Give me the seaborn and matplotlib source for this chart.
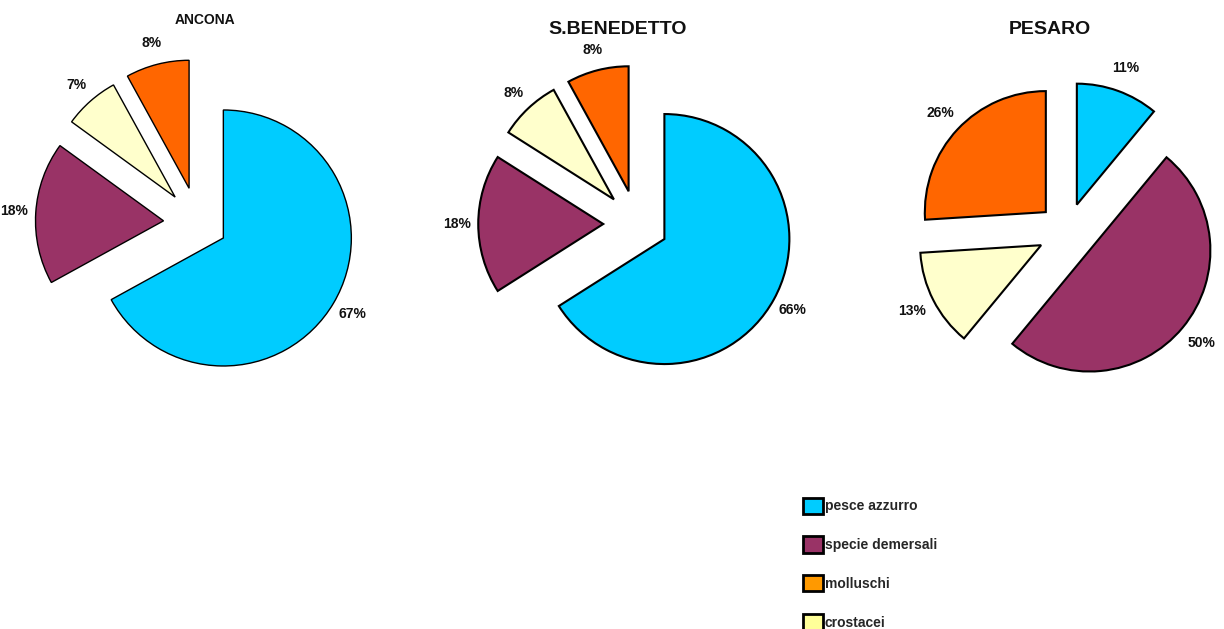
import matplotlib
matplotlib.use("Agg")
import matplotlib.pyplot as plt
from matplotlib.patches import Patch
import seaborn as sns

# data (percent shares per port)
categories = ["pesce azzurro", "specie demersali", "crostacei", "molluschi"]
ancona = [67, 18, 7, 8]
sbenedetto = [66, 18, 8, 8]
pesaro = [11, 50, 13, 26]
titles = ["ANCONA", "S.BENEDETTO", "PESARO"]

pie_colors = ["#00CCFF", "#993366", "#FFFFCC", "#FF6600"]
legend_order = ["pesce azzurro", "specie demersali", "molluschi", "crostacei"]
legend_colors = ["#00CCFF", "#993366", "#FF9900", "#FFFF99"]

sns.set_theme(style="white")
plt.rcParams['font.family'] = ['Liberation Sans', 'DejaVu Sans']

W, H = 1224, 629
fig = plt.figure(figsize=(W / 100, H / 100), dpi=100)

# pixel layout: center, radius, explode fraction per wedge, title pos/size, edge width, label dist
layouts = [
    dict(c=(198, 223), r=128, ex=[0.23, 0.27, 0.27, 0.28], t=(205, 20), ts=10, lw=1.0, pd=1.17),
    dict(c=(637, 224), r=125, ex=[0.25, 0.27, 0.27, 0.27], t=(618, 30), ts=14, lw=1.5, pd=1.17),
    dict(c=(1067, 232), r=121, ex=[0.24, 0.24, 0.24, 0.24], t=(1050, 30), ts=14, lw=1.5, pd=1.2),
]

S = 420
for vals, title, lay in zip([ancona, sbenedetto, pesaro], titles, layouts):
    cx, cy = lay["c"]
    ax = fig.add_axes([(cx - S / 2) / W, (H - cy - S / 2) / H, S / W, S / H])
    ax.pie(vals, colors=pie_colors, startangle=90, counterclock=False,
           explode=[e * lay["r"] for e in lay["ex"]], radius=lay["r"],
           autopct="%.0f%%", pctdistance=lay["pd"],
           wedgeprops=dict(edgecolor="black", linewidth=lay["lw"]),
           textprops=dict(fontsize=10, fontweight="bold", color="#111111"))
    ax.set_xlim(-S / 2, S / 2)
    ax.set_ylim(-S / 2, S / 2)
    ax.set_aspect("equal")
    ax.axis("off")
    fig.text(lay["t"][0] / W, 1 - lay["t"][1] / H, title, ha="center", va="center",
             fontsize=lay["ts"], fontweight="bold", color="#111111")

handles = [Patch(facecolor=c, edgecolor="black", linewidth=2) for c in legend_colors]
fig.legend(handles, legend_order, loc="upper left",
           bbox_to_anchor=(797 / W, 1 - 492 / H), frameon=False,
           prop=dict(size=10, weight="bold"), labelspacing=1.6,
           handlelength=1.45, handleheight=1.45, handletextpad=0.15,
           borderaxespad=0)

fig.savefig("out.png", dpi=100, facecolor="white")
